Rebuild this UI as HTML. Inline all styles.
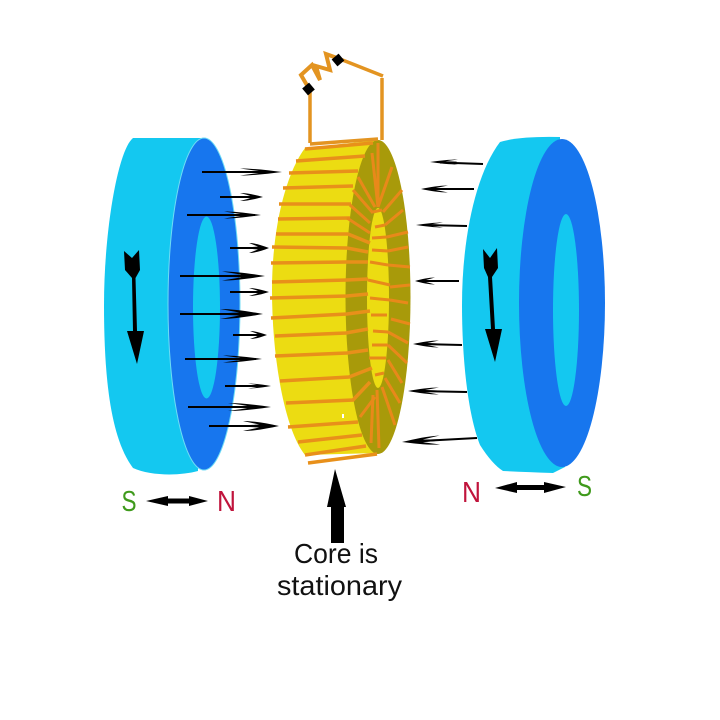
<!DOCTYPE html>
<html>
<head>
<meta charset="utf-8">
<style>
html,body{margin:0;padding:0;background:#fff}
svg{display:block}
text{font-family:"Liberation Sans",sans-serif}
</style>
</head>
<body>
<svg width="720" height="720" viewBox="0 0 720 720" xmlns="http://www.w3.org/2000/svg">
<defs>
<path id="h" d="M0 0C-.35 -.55 -.7 -1 -1 -1L-.55 -.3L-.95 -.15L-.95 .15L-.55 .3L-1 1C-.7 1 -.35 .55 0 0Z" fill="#000"/>
</defs>
<rect width="720" height="720" fill="#fff"/>

<!-- Left magnet -->
<path d="M133,138C118,150 104,230 104,305C104,385 112,440 133,468C150,476 180,476 198,471L204,138Z" fill="#14c8f0"/>
<ellipse cx="204" cy="304" rx="36" ry="166" fill="#1776ee" stroke="#6fdcf5" stroke-width="1"/>
<ellipse cx="206.500" cy="307.500" rx="13.500" ry="91" fill="#14c8f0"/>

<!-- Right magnet -->
<path d="M500,142Q520,136 560,137L565,467L553,473Q525,472 503,471Q492,464 480,445C468,415 462,360 462,305C462,240 475,175 500,142Z" fill="#14c8f0"/>
<ellipse cx="562" cy="303" rx="43" ry="164" fill="#1776ee"/>
<ellipse cx="566" cy="310" rx="13" ry="96" fill="#14c8f0"/>

<!-- Core -->
<path d="M305,148L378,140L378,453L305,455C285,430 272,360 272,290C272,230 285,175 305,148Z" fill="#ecdc12"/>
<ellipse cx="378" cy="297" rx="32.500" ry="157" fill="#a89a0a"/>
<ellipse cx="378" cy="298" rx="11" ry="90" fill="#ecdc12"/>
<rect x="342" y="414" width="2" height="4" fill="#fff"/>

<!-- Outer windings -->
<g stroke="#e8901a" stroke-width="3.500" fill="none">
<path d="M305,149L373,143"/>
<path d="M296,161L365,156"/>
<path d="M289,173L358,171"/>
<path d="M283,188L353,186"/>
<path d="M279,204L351,204"/>
<path d="M278,219L350,218"/>
<path d="M276,234L348,234L370,243"/>
<path d="M272,247L347,248L368,252"/>
<path d="M271,263L347,262L368,262"/>
<path d="M272,282L347,280L368,279"/>
<path d="M270,298L347,296L368,294"/>
<path d="M271,318L347,314L370,311"/>
<path d="M275,336L346,333L368,329"/>
<path d="M275,356L347,353L368,350"/>
<path d="M280,381L349,377L372,368"/>
<path d="M286,403L353,400L370,382"/>
<path d="M288,427L358,422"/>
<path d="M298,442L362,435"/>
<path d="M305,455L366,446"/>
<path d="M308,463L377,454"/>
</g>

<!-- Face windings -->
<g stroke="#e8891a" stroke-width="3" fill="none">
<path d="M378,207L378,143"/>
<path d="M378,207L372,153"/>
<path d="M378,207L392,167"/>
<path d="M383,212L402,190"/>
<path d="M385,225L403,210"/>
<path d="M387,237L408,232"/>
<path d="M388,251L408,247"/>
<path d="M388,265L410,267"/>
<path d="M390,287L410,285"/>
<path d="M390,300L408,303"/>
<path d="M391,319L410,324"/>
<path d="M388,332L408,343"/>
<path d="M388,345L407,363"/>
<path d="M388,360L402,383"/>
<path d="M385,378L400,403"/>
<path d="M382,387L395,425"/>
<path d="M377,390L379,448"/>
<path d="M373,395L371,443"/>
<path d="M375,397L360,417"/>
<path d="M358,177L375,207"/>
<path d="M353,190L373,213"/>
<path d="M350,205L370,223"/>
<path d="M347,218L370,233"/>
<path d="M373,212L382,210"/>
<path d="M375,227L385,225"/>
<path d="M372,238L387,237"/>
<path d="M372,250L388,251"/>
<path d="M370,262L388,265"/>
<path d="M368,280L390,285"/>
<path d="M370,298L390,300"/>
<path d="M371,315L387,315"/>
<path d="M373,331L388,332"/>
<path d="M372,345L388,345"/>
<path d="M369,358L386,358"/>
<path d="M375,375L384,373"/>
</g>

<!-- Wires and resistor -->
<g stroke="#e39421" stroke-width="3.500" fill="none">
<path d="M310,144L378,139"/>
<path d="M310,143L310,90"/>
<path d="M382,140L382,78"/>
<path d="M383,76L340,59"/>
<path d="M308,87L301,75L312,65L320,80L316,66L330,70L326,54L340,59" stroke-width="4"/>
</g>
<g fill="#000">
<rect x="304" y="84.500" width="9" height="9" transform="rotate(-40 308.500 89)"/>
<rect x="333.500" y="55.500" width="9" height="9" transform="rotate(-40 338 60)"/>
</g>

<!-- Flux arrows left -->
<g stroke="#000" stroke-width="2" fill="none">
<path d="M202,172H270"/><path d="M220,197H256"/><path d="M187,215H255"/>
<path d="M230,248H262"/><path d="M180,276H258"/><path d="M230,292H262"/>
<path d="M180,314H256"/><path d="M233,335H262"/><path d="M185,359H256"/>
<path d="M225,386H265"/><path d="M188,407H264"/><path d="M209,426H272"/>
</g>
<use href="#h" transform="translate(282,172) scale(42,3.500)"/>
<use href="#h" transform="translate(263,197) scale(23,4)"/>
<use href="#h" transform="translate(261,215) scale(37,3.500)"/>
<use href="#h" transform="translate(269,248) scale(20,5)"/>
<use href="#h" transform="translate(265,276) scale(43,4.500)"/>
<use href="#h" transform="translate(269,292) scale(20,4)"/>
<use href="#h" transform="translate(263,314) scale(43,5)"/>
<use href="#h" transform="translate(267,335) scale(17,4)"/>
<use href="#h" transform="translate(262,359) scale(39,3.500)"/>
<use href="#h" transform="translate(271,386) scale(23,2.500)"/>
<use href="#h" transform="translate(271,407) scale(43,4)"/>
<use href="#h" transform="translate(279,426) scale(36,5)"/>

<!-- Flux arrows right -->
<g stroke="#000" stroke-width="2" fill="none">
<path d="M483,164L440,162.500"/><path d="M474,189H430"/><path d="M467,226L425,225"/>
<path d="M459,281H421"/><path d="M462,345L420,344"/><path d="M467,392L416,391"/>
<path d="M477,438L412,441.500"/>
</g>
<use href="#h" transform="translate(430,162) scale(-28,2.500)"/>
<use href="#h" transform="translate(421,189) scale(-27,3.500)"/>
<use href="#h" transform="translate(416,225) scale(-27,2.500)"/>
<use href="#h" transform="translate(415,281) scale(-20,3.500)"/>
<use href="#h" transform="translate(413,344) scale(-26,3.500)"/>
<use href="#h" transform="translate(408,391) scale(-31,3.500)"/>
<use href="#h" transform="translate(402,442) rotate(-3) scale(-38,4.500)"/>

<!-- Large arrows -->
<g fill="#000">
<path d="M124,251L132,258L139,250L140,270L135.500,278L137,331H144L137,364L127,331H133L132,278L125,270Z"/>
<path d="M483,249L490,258L497,248L498,268L492,277L495,329H502L495,362L485,329H491L488,277L484,268Z"/>
<path d="M146,501L168,496V498.500H189V496L208,501L189,506V503.500H168V506Z"/>
<path d="M495,488L517,482V485H544V482L566,487L544,493V490H517V493Z"/>
<path d="M335,469L346,507H344V543H331V507H327Z"/>
</g>

<!-- Labels -->
<g font-size="29">
<text x="121.500" y="511" fill="#3f9a1c" textLength="15" lengthAdjust="spacingAndGlyphs">S</text>
<text x="217" y="511" fill="#c0143c" textLength="19" lengthAdjust="spacingAndGlyphs">N</text>
<text x="462" y="502" fill="#c0143c" textLength="19" lengthAdjust="spacingAndGlyphs">N</text>
<text x="577" y="496" fill="#3f9a1c" textLength="15" lengthAdjust="spacingAndGlyphs">S</text>
</g>
<g font-size="27.500" fill="#111">
<text x="294" y="563" textLength="84" lengthAdjust="spacingAndGlyphs">Core is</text>
<text x="277" y="595" textLength="125" lengthAdjust="spacingAndGlyphs">stationary</text>
</g>
</svg>
</body>
</html>
